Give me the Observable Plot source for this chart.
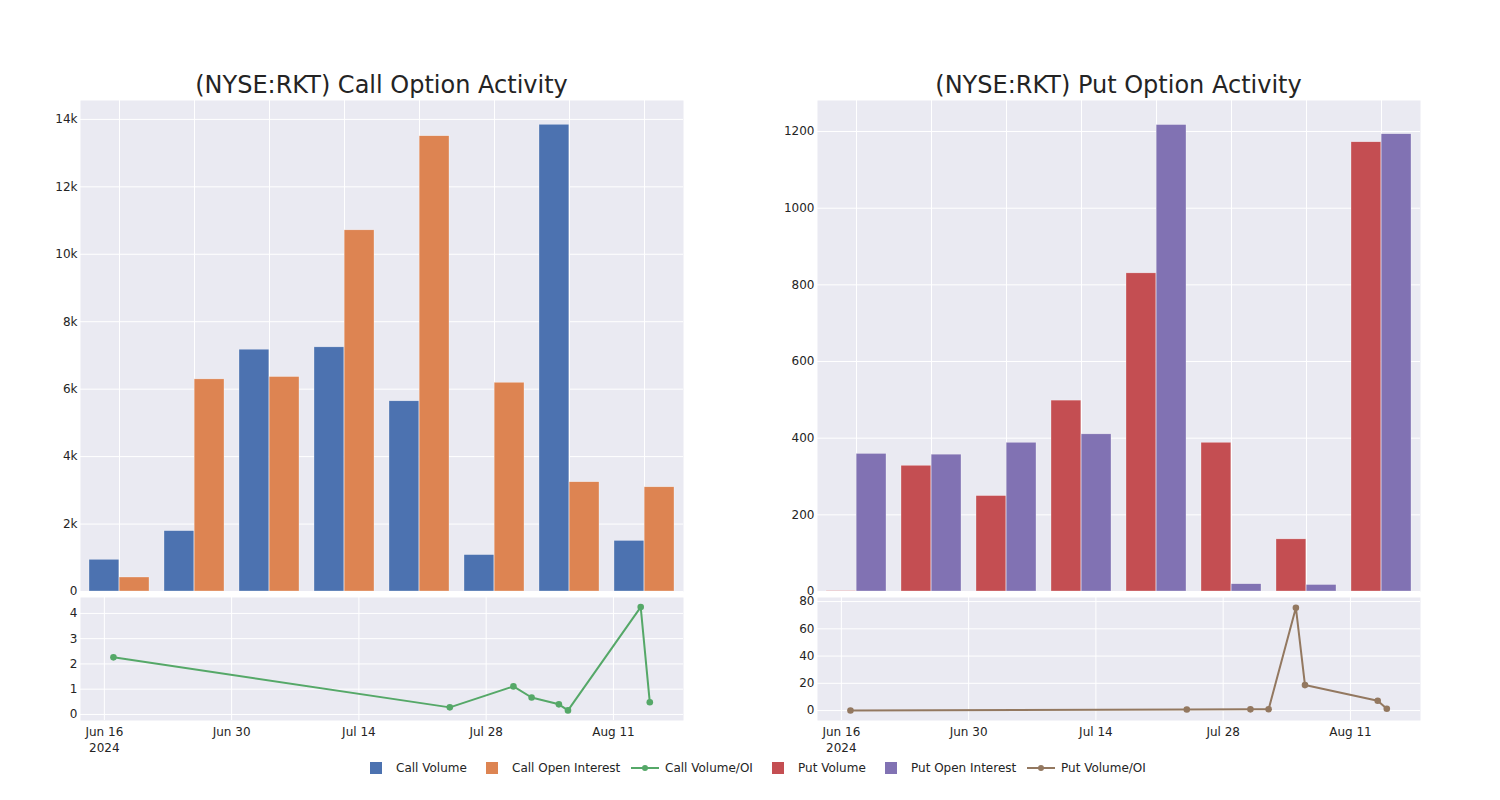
<!DOCTYPE html>
<html><head><meta charset="utf-8">
<script src="https://cdn.jsdelivr.net/npm/d3@7"></script>
<script src="https://cdn.jsdelivr.net/npm/@observablehq/plot@0.6"></script>
<style>
body{margin:0;background:#fff;font-family:"DejaVu Sans",sans-serif;}
#root{position:relative;width:1500px;height:800px;overflow:hidden;background:#fff;}
.title{position:absolute;font-size:24px;color:rgb(36,36,36);text-align:center;width:603px;top:69px;line-height:32px;white-space:nowrap;}
.panel{position:absolute;}
.leg{position:absolute;top:760px;height:16px;font-size:12px;line-height:16px;color:rgb(36,36,36);white-space:nowrap;}
.leg svg{position:absolute;top:0;}
</style></head><body><div id="root"></div>
<script>
// ---- data ----
const barDates = ["2024-06-17","2024-07-24","2024-07-31","2024-08-02","2024-08-05","2024-08-06","2024-08-14","2024-08-15"];
const callVolume = [940, 1790, 7170, 7240, 5640, 1080, 13840, 1500];
const callOpenInterest = [415, 6290, 6360, 10710, 13500, 6190, 3240, 3090];
const putVolume = [1, 328, 249, 498, 830, 388, 136, 1172];
const putOpenInterest = [359, 357, 388, 410, 1217, 19, 17, 1193];
const ratioDates = ["2024-06-17","2024-07-24","2024-07-31","2024-08-02","2024-08-05","2024-08-06","2024-08-14","2024-08-15"];
const callRatio = [2.26, 0.28, 1.11, 0.67, 0.40, 0.16, 4.25, 0.48];
const putRatio = [0.0, 0.8, 0.9, 1.0, 75.5, 18.7, 7.2, 1.3];
const timeTicks = ["2024-06-16","2024-06-30","2024-07-14","2024-07-28","2024-08-11"];
const callBarTicks = [0, 2000, 4000, 6000, 8000, 10000, 12000, 14000];
const putBarTicks = [0, 200, 400, 600, 800, 1000, 1200];
const callRatioTicks = [0, 1, 2, 3, 4];
const putRatioTicks = [0, 20, 40, 60, 80];
const titles = ["(NYSE:RKT) Call Option Activity", "(NYSE:RKT) Put Option Activity"];
const legendItems = [
  {label: "Call Volume", kind: "bar", color: "#4C72B0"},
  {label: "Call Open Interest", kind: "bar", color: "#DD8452"},
  {label: "Call Volume/OI", kind: "line", color: "#55A868"},
  {label: "Put Volume", kind: "bar", color: "#C44E52"},
  {label: "Put Open Interest", kind: "bar", color: "#8172B3"},
  {label: "Put Volume/OI", kind: "line", color: "#937860"}
];

const BG = "#EAEAF2";
const INK = "rgb(36,36,36)";
const parse = d3.utcParse("%Y-%m-%d");
const root = document.getElementById("root");
const style = {fontFamily: "'DejaVu Sans', sans-serif", fontSize: "12px", color: INK, background: "transparent", overflow: "visible"};

function place(node, left, top) {
  const div = document.createElement("div");
  div.className = "panel";
  div.style.left = left + "px";
  div.style.top = top + "px";
  div.appendChild(node);
  root.appendChild(div);
}

function barChart(vol, oi, colV, colO, yMax, ticks, fmt) {
  const W = 700, ml = 80, mr = 17, H = 501, mt = 10, mb = 0;
  const n = barDates.length;
  const half = (W - ml - mr) / n * 0.8 / 2;
  const data = barDates.map((d, i) => ({d, v: vol[i], o: oi[i]}));
  return Plot.plot({
    width: W, height: H, marginLeft: ml, marginRight: mr, marginTop: mt, marginBottom: mb,
    style,
    x: {type: "band", domain: barDates, paddingInner: 0.2, paddingOuter: 0.1, axis: null},
    y: {domain: [0, yMax], axis: null},
    marks: [
      Plot.frame({fill: BG, stroke: null}),
      Plot.gridY({ticks, stroke: "white", strokeOpacity: 1, strokeWidth: 1}),
      Plot.gridX({stroke: "white", strokeOpacity: 1, strokeWidth: 1}),
      Plot.barY(data, {x: "d", y: "v", fill: colV, insetLeft: 0, insetRight: half, stroke: "white", strokeWidth: 0.5, strokeOpacity: 0.6}),
      Plot.barY(data, {x: "d", y: "o", fill: colO, insetLeft: half, insetRight: 0, stroke: "white", strokeWidth: 0.5, strokeOpacity: 0.6}),
      Plot.axisY({ticks, tickFormat: fmt, tickSize: 0, tickPadding: 3, label: null, fill: INK})
    ]
  });
}

function lineChart(vals, color, yDomain, ticks) {
  const W = 700, ml = 80, mr = 17, H = 160, mt = 0, mb = 37;
  const data = ratioDates.map((d, i) => ({d: parse(d), v: vals[i]}));
  const tt = timeTicks.map(parse);
  const fmt = d3.utcFormat("%b %-d");
  return Plot.plot({
    width: W, height: H, marginLeft: ml, marginRight: mr, marginTop: mt, marginBottom: mb,
    style,
    x: {type: "utc", domain: [new Date("2024-06-13T09:00Z"), new Date("2024-08-18T17:00Z")], axis: null},
    y: {domain: yDomain, axis: null},
    marks: [
      Plot.frame({fill: BG, stroke: null}),
      Plot.gridY({ticks, stroke: "white", strokeOpacity: 1, strokeWidth: 1}),
      Plot.gridX({ticks: tt, stroke: "white", strokeOpacity: 1, strokeWidth: 1}),
      Plot.axisX({ticks: tt, tickFormat: (d, i) => i === 0 ? fmt(d) + "\n" + d.getUTCFullYear() : fmt(d), tickSize: 0, tickPadding: 4, label: null, fill: INK, lineHeight: 1.35}),
      Plot.axisY({ticks, tickFormat: d => String(d), tickSize: 0, tickPadding: 3, label: null, fill: INK}),
      Plot.line(data, {x: "d", y: "v", stroke: color, strokeWidth: 2}),
      Plot.dot(data, {x: "d", y: "v", fill: color, r: 3.3, stroke: null})
    ]
  });
}

const kfmt = d => d === 0 ? "0" : (d / 1000) + "k";
place(barChart(callVolume, callOpenInterest, "#4C72B0", "#DD8452", 14560, callBarTicks, kfmt), 0, 90);
place(barChart(putVolume, putOpenInterest, "#C44E52", "#8172B3", 1281, putBarTicks, d => String(d)), 737, 90);
place(lineChart(callRatio, "#55A868", [-0.24, 4.63], callRatioTicks), 0, 597);
place(lineChart(putRatio, "#937860", [-7.3, 83], putRatioTicks), 737, 597);

titles.forEach((t, i) => {
  const div = document.createElement("div");
  div.className = "title";
  div.style.left = (i === 0 ? 80 : 817) + "px";
  div.textContent = t;
  root.appendChild(div);
});

// legend
const legendX = [370, 486, 631, 772, 885, 1027];
legendItems.forEach((it, i) => {
  const div = document.createElement("div");
  div.className = "leg";
  div.style.left = legendX[i] + "px";
  const sw = it.kind === "bar" ? 12 : 28;
  const svg = d3.create("svg").attr("width", sw).attr("height", 16);
  if (it.kind === "bar") {
    svg.append("rect").attr("x", 0).attr("y", 2).attr("width", 12).attr("height", 12).attr("fill", it.color);
  } else {
    svg.append("line").attr("x1", 0).attr("x2", 28).attr("y1", 8).attr("y2", 8).attr("stroke", it.color).attr("stroke-width", 2);
    svg.append("circle").attr("cx", 14).attr("cy", 8).attr("r", 3).attr("fill", it.color);
  }
  div.appendChild(svg.node());
  const span = document.createElement("span");
  span.textContent = it.label;
  span.style.position = "absolute";
  span.style.left = (it.kind === "bar" ? 26 : 34) + "px";
  div.appendChild(span);
  root.appendChild(div);
});
</script></body></html>
